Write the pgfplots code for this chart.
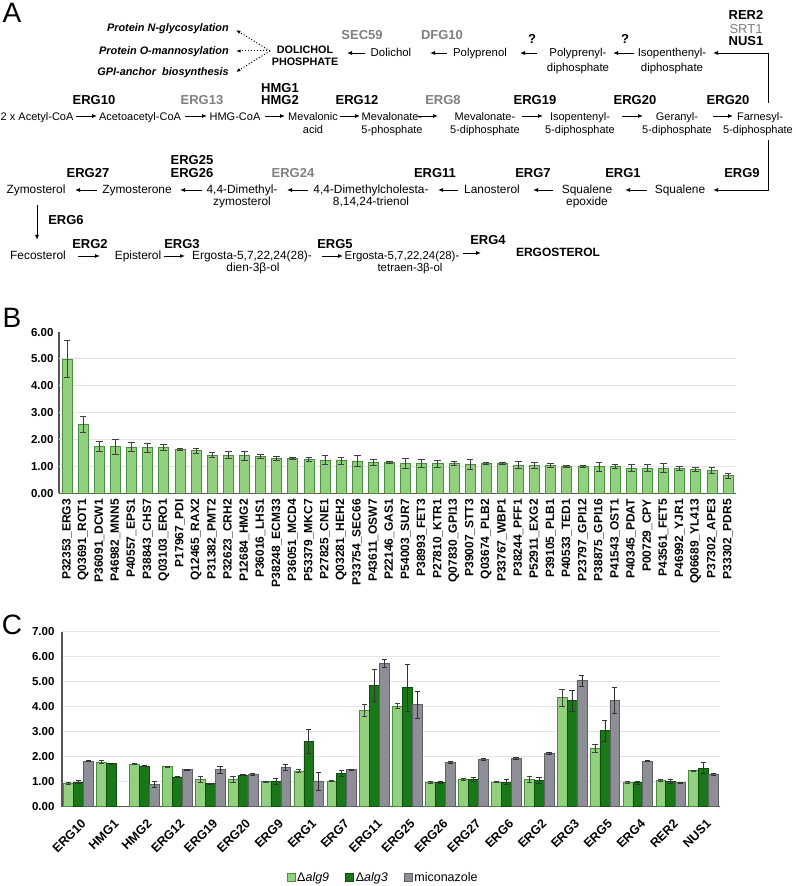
\documentclass[border=0pt]{standalone}
\usepackage{fontspec}
\setmainfont{Liberation Sans}
\usepackage{pgfplots}
\usepackage{pgfplotstable}
\pgfplotsset{compat=1.18}
\usetikzlibrary{arrows.meta}
\definecolor{lg}{RGB}{146,208,128}
\definecolor{lgb}{RGB}{76,140,64}
\definecolor{dg}{RGB}{26,120,26}
\definecolor{dgb}{RGB}{12,80,12}
\definecolor{gy}{RGB}{142,142,150}
\definecolor{gyb}{RGB}{96,96,102}
\definecolor{gn}{RGB}{128,128,128}
\definecolor{gridc}{RGB}{228,228,228}
\definecolor{axc}{RGB}{85,85,85}
\newcommand\tx{\fontsize{11.9}{13}\selectfont}
\newcommand\txa{\fontsize{11.4}{12}\selectfont}
\newcommand\txs{\fontsize{11}{12}\selectfont}
\newcommand\gb{\fontsize{13}{14}\selectfont\bfseries}
\newcommand\TT[3]{\node[anchor=base,inner sep=0pt] at (#1,#2+4) {\tx #3};}
\newcommand\TA[3]{\node[anchor=base,inner sep=0pt] at (#1,#2+4) {\txa #3};}
\newcommand\TS[3]{\node[anchor=base,inner sep=0pt] at (#1,#2+4) {\txs #3};}
\newcommand\GG[4][black]{\node[anchor=base,inner sep=0pt,text=#1] at (#2,#3+4.7) {\gb #4};}
\newcommand\AR[4]{\draw[ar] (#1,#2)--(#3,#4);}
\tikzset{ar/.style={-{Latex[length=5pt,width=4pt]},line width=0.9pt}}
\pgfplotsset{
  sqleg/.style={legend image code/.code={\draw[##1,line width=0.6pt] (0pt,-4pt) rectangle (8pt,4pt);}},
  ebar/.style 2 args={error bars/y dir=both, error bars/y explicit,
    error bars/error bar style={line width=0.7pt,#1},
    error bars/error mark options={rotate=90, mark size=#2, line width=0.7pt, #1}}
}
\pgfplotstableread{
x y e
0 5.00 0.68
1 2.57 0.28
2 1.74 0.19
3 1.74 0.27
4 1.72 0.17
5 1.70 0.18
6 1.70 0.11
7 1.65 0.03
8 1.59 0.08
9 1.43 0.09
10 1.43 0.12
11 1.41 0.17
12 1.39 0.07
13 1.31 0.08
14 1.31 0.04
15 1.27 0.07
16 1.25 0.18
17 1.22 0.14
18 1.21 0.21
19 1.16 0.10
20 1.15 0.03
21 1.12 0.20
22 1.12 0.15
23 1.11 0.12
24 1.11 0.07
25 1.07 0.19
26 1.11 0.03
27 1.11 0.03
28 1.06 0.12
29 1.05 0.10
30 1.06 0.07
31 1.01 0.03
32 1.01 0.02
33 1.00 0.16
34 1.00 0.08
35 0.95 0.13
36 0.95 0.13
37 0.95 0.16
38 0.94 0.08
39 0.90 0.08
40 0.87 0.12
41 0.66 0.08
}\tabB
\pgfplotstableread{
x a9 a9e a3 a3e mi mie
0 0.93 0.04 0.99 0.05 1.82 0.02
1 1.78 0.06 1.72 0.02 nan nan
2 1.70 0.02 1.63 0.02 0.90 0.12
3 1.60 0.02 1.19 0.03 1.48 0.03
4 1.09 0.12 0.93 0.02 1.48 0.13
5 1.10 0.13 1.26 0.02 1.29 0.03
6 1.01 0.02 1.01 0.12 1.58 0.11
7 1.43 0.05 2.62 0.47 1.03 0.36
8 1.02 0.02 1.33 0.13 1.49 0.02
9 3.86 0.23 4.86 0.63 5.74 0.16
10 4.02 0.10 4.76 0.93 4.08 0.55
11 0.98 0.03 0.98 0.03 1.78 0.04
12 1.08 0.04 1.08 0.08 1.90 0.03
13 0.98 0.02 0.98 0.10 1.94 0.03
14 1.10 0.13 1.06 0.13 2.14 0.03
15 4.36 0.33 4.24 0.43 5.04 0.22
16 2.34 0.16 3.04 0.42 4.24 0.52
17 0.98 0.03 0.96 0.05 1.82 0.02
18 1.04 0.04 1.02 0.07 0.96 0.02
19 1.44 0.02 1.54 0.22 1.29 0.05
}\tabC
\begin{document}
\begin{tikzpicture}[x=1pt,y=1pt]
\useasboundingbox (0,0) rectangle (795,886);
\begin{scope}[shift={(0,886)},yscale=-1]
% panel letters
\node[inner sep=0pt] at (12,13) {\fontsize{28}{28}\selectfont A};
\node[inner sep=0pt] at (12,318) {\fontsize{28}{28}\selectfont B};
\node[inner sep=0pt] at (12,625) {\fontsize{28}{28}\selectfont C};
% row 1
\node[anchor=base east,inner sep=0pt] at (229,32) {\bfseries\itshape\fontsize{10.9}{12}\selectfont Protein N-glycosylation};
\node[anchor=base east,inner sep=0pt] at (229,55) {\bfseries\itshape\fontsize{10.9}{12}\selectfont Protein O-mannosylation};
\node[anchor=base east,inner sep=0pt] at (229,76) {\bfseries\itshape\fontsize{10.9}{12}\selectfont GPI-anchor\ \ biosynthesis};
\draw[dotted,line width=1pt,-{Latex[length=4.5pt,width=3.5pt]}] (270,51)--(236,30);
\draw[dotted,line width=1pt,-{Latex[length=4.5pt,width=3.5pt]}] (270,51)--(236,51);
\draw[dotted,line width=1pt,-{Latex[length=4.5pt,width=3.5pt]}] (270,51)--(236,72);
\node[anchor=base,inner sep=0pt] at (305,54) {\bfseries\fontsize{10.8}{11}\selectfont DOLICHOL};
\node[anchor=base,inner sep=0pt] at (305,65.5) {\bfseries\fontsize{10.8}{11}\selectfont PHOSPHATE};
\AR{365}{53}{347}{53}
\GG[gn]{362}{35}{SEC59}
\TA{391}{53}{Dolichol}
\AR{447}{53}{430}{53}
\GG[gn]{442}{35}{DFG10}
\TA{480}{53}{Polyprenol}
\GG{532}{39}{?}
\AR{537}{53}{520}{53}
\TA{578}{53}{Polyprenyl-}
\TA{578}{68}{diphosphate}
\GG{625}{39}{?}
\AR{634}{53}{613}{53}
\TA{672}{53}{Isopenthenyl-}
\TA{672}{68}{diphosphate}
\draw[ar] (768,103)--(768,53)--(713,53);
\GG{746}{15}{RER2}
\node[anchor=base,inner sep=0pt,text=gn] at (746,33.7) {\fontsize{13}{14}\selectfont SRT1};
\GG{746}{41}{NUS1}
% row 2
\node[anchor=base west,inner sep=0pt] at (0.5,120.5) {\txs 2 x Acetyl-CoA};
\AR{76}{116}{97}{116}
\GG{94}{100}{ERG10}
\TS{140}{116.5}{Acetoacetyl-CoA}
\AR{185}{116}{207}{116}
\GG[gn]{202}{100}{ERG13}
\TS{235}{116.5}{HMG-CoA}
\AR{265}{116}{285}{116}
\GG{280}{88}{HMG1}
\GG{280}{100}{HMG2}
\TS{313}{116.5}{Mevalonic}
\TS{313}{130}{acid}
\AR{340}{116}{360}{116}
\GG{357}{100}{ERG12}
\TS{392}{116.5}{Mevalonate-}
\TS{392}{130}{5-phosphate}
\AR{418}{116}{438}{116}
\GG[gn]{443}{100}{ERG8}
\TS{485}{116.5}{Mevalonate-}
\TS{485}{130}{5-diphosphate}
\AR{522}{116}{543}{116}
\GG{535}{100}{ERG19}
\TS{580}{116.5}{Isopentenyl-}
\TS{580}{130}{5-diphosphate}
\AR{622}{116}{643}{116}
\GG{635}{100}{ERG20}
\TS{677}{116.5}{Geranyl-}
\TS{677}{130}{5-diphosphate}
\AR{713}{116}{733}{116}
\GG{728}{100}{ERG20}
\TS{760}{116.5}{Farnesyl-}
\TS{758}{130}{5-diphosphate}
% row 3
\draw[ar] (768,140)--(768,190)--(713,190);
\GG{742}{173}{ERG9}
\TT{680}{189.3}{Squalene}
\AR{647}{190}{625}{190}
\GG{623}{173}{ERG1}
\TT{587}{189.3}{Squalene}
\TT{587}{201.7}{epoxide}
\AR{553}{190}{533}{190}
\GG{533}{173}{ERG7}
\TT{492}{189.3}{Lanosterol}
\AR{458}{190}{438}{190}
\GG{435}{173}{ERG11}
\TT{371}{189.3}{4,4-Dimethylcholesta-}
\TT{371}{202}{8,14,24-trienol}
\AR{308}{190}{287}{190}
\GG[gn]{293}{173}{ERG24}
\TT{242}{189.3}{4,4-Dimethyl-}
\TT{242}{202}{zymosterol}
\AR{202}{190}{180}{190}
\GG{192}{160}{ERG25}
\GG{192}{173}{ERG26}
\TT{137}{189.3}{Zymosterone}
\AR{97}{190}{75}{190}
\GG{88}{173}{ERG27}
\TT{36}{189.3}{Zymosterol}
\AR{37}{205}{37}{240}
\GG{66}{220}{ERG6}
% row 4
\TT{38}{256}{Fecosterol}
\AR{78}{256}{100}{256}
\GG{90}{244}{ERG2}
\TT{138}{256}{Episterol}
\AR{164}{256}{185}{256}
\GG{182}{244}{ERG3}
\TT{252}{256}{Ergosta-5,7,22,24(28)-}
\TT{253}{268}{dien-3β-ol}
\AR{322}{256}{343}{256}
\GG{335}{244}{ERG5}
\TA{402}{256}{Ergosta-5,7,22,24(28)-}
\TA{410}{268}{tetraen-3β-ol}
\AR{463}{253}{481}{253}
\GG{488}{240}{ERG4}
\node[anchor=base,inner sep=0pt] at (558,257) {\bfseries\fontsize{12}{13}\selectfont ERGOSTEROL};
\end{scope}

% ---------- panel B
\begin{axis}[
  at={(59pt,392.5pt)}, anchor=south west,
  scale only axis, width=677pt, height=161.4pt,
  xmin=-0.5, xmax=41.5, ymin=0, ymax=6,
  ybar, bar width=10pt,
  axis x line*=bottom, axis y line*=left,
  axis line style={-, axc, line width=1.3pt},
  ytick={0,1,...,6},
  extra y ticks={1,2,3,4,5}, extra y tick labels={},
  extra y tick style={ymajorgrids=true},
  grid style={gridc, line width=1pt},
  xtick={0,...,41},
  xticklabels={P32353\_ERG3, Q03691\_ROT1, P36091\_DCW1, P46982\_MNN5, P40557\_EPS1, P38843\_CHS7, Q03103\_ERO1, P17967\_PDI, Q12465\_RAX2, P31382\_PMT2, P32623\_CRH2, P12684\_HMG2, P36016\_LHS1, P38248\_ECM33, P36051\_MCD4, P53379\_MKC7, P27825\_CNE1, Q03281\_HEH2, P33754\_SEC66, P43611\_OSW7, P22146\_GAS1, P54003\_SUR7, P38993\_FET3, P27810\_KTR1, Q07830\_GPI13, P39007\_STT3, Q03674\_PLB2, P33767\_WBP1, P38244\_PFF1, P52911\_EXG2, P39105\_PLB1, P40533\_TED1, P23797\_GPI12, P38875\_GPI16, P41543\_OST1, P40345\_PDAT, P00729\_CPY, P43561\_FET5, P46992\_YJR1, Q06689\_YL413, P37302\_APE3, P33302\_PDR5},
  major tick length=0pt,
  yticklabel style={font=\bfseries\fontsize{11.5}{12}\selectfont, xshift=-2pt,
    /pgf/number format/.cd, fixed, fixed zerofill, precision=2, assume math mode=true},
  xticklabel style={yshift=-2pt, rotate=90, anchor=east, font=\bfseries\fontsize{12}{13}\selectfont},
]
\addplot[fill=lg, draw=lgb, line width=0.6pt, ebar={black!75}{3.3pt}] table[x=x,y=y,y error=e] {\tabB};
\end{axis}

% ---------- panel C
\begin{axis}[
  at={(62pt,79.3pt)}, anchor=south west,
  scale only axis, width=658pt, height=175pt,
  xmin=-0.5, xmax=19.5, ymin=0, ymax=7,
  ybar=0pt, bar width=9.9pt,
  axis x line*=bottom, axis y line*=left,
  axis line style={-, axc, line width=1.3pt},
  ytick={0,1,...,7}, ymajorgrids,
  grid style={gridc, line width=1pt},
  xtick={0,...,19},
  xticklabels={ERG10,HMG1,HMG2,ERG12,ERG19,ERG20,ERG9,ERG1,ERG7,ERG11,ERG25,ERG26,ERG27,ERG6,ERG2,ERG3,ERG5,ERG4,RER2,NUS1},
  major tick length=0pt,
  yticklabel style={font=\bfseries\fontsize{11.5}{12}\selectfont, xshift=-4pt,
    /pgf/number format/.cd, fixed, fixed zerofill, precision=2, assume math mode=true},
  xticklabel style={xshift=2pt, yshift=-7pt, rotate=45, anchor=north east, font=\bfseries\fontsize{12.5}{13}\selectfont},
  legend style={at={(0.488,-0.406)}, anchor=center, draw=none, fill=none, legend columns=3,
    font=\fontsize{12.5}{13}\selectfont,
    /tikz/every even column/.append style={column sep=14pt}},
]
\addplot[fill=lg, draw=lgb, line width=0.6pt, sqleg, ebar={black!75}{2.6pt}] table[x=x,y=a9,y error=a9e] {\tabC};
\addlegendentry{Δ\textit{alg9}}
\addplot[fill=dg, draw=dgb, line width=0.6pt, sqleg, ebar={black!80}{2.6pt}] table[x=x,y=a3,y error=a3e] {\tabC};
\addlegendentry{Δ\textit{alg3}}
\addplot[fill=gy, draw=gyb, line width=0.6pt, sqleg, ebar={black!80}{2.6pt}] table[x=x,y=mi,y error=mie] {\tabC};
\addlegendentry{miconazole}
\end{axis}
\end{tikzpicture}
\end{document}
